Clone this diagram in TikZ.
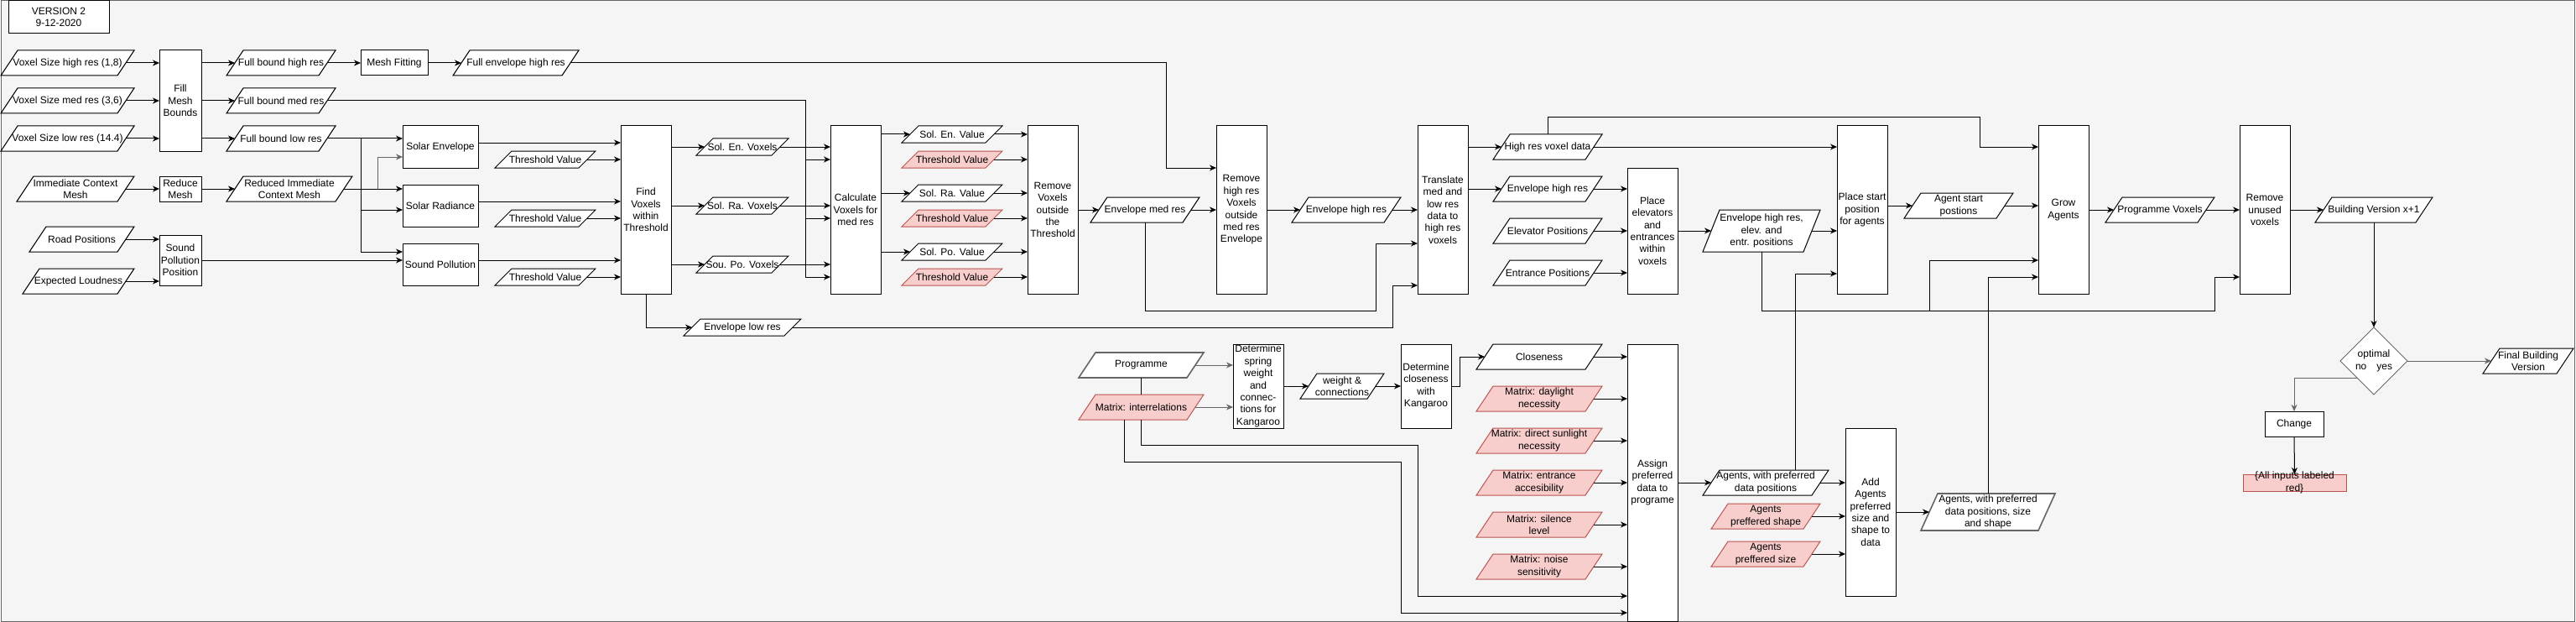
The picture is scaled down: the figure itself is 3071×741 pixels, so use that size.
\documentclass[tikz,border=0pt]{standalone}
\usepackage{fontspec}
\setmainfont{Liberation Sans}
\usetikzlibrary{arrows.meta,shapes.geometric}
\newdimen\skXa \newdimen\skYa \newdimen\skXb \newdimen\skYb
\makeatletter
\pgfdeclareshape{skewbox}{%
  \inheritsavedanchors[from=rectangle]%
  \inheritanchorborder[from=rectangle]%
  \inheritanchor[from=rectangle]{center}%
  \inheritanchor[from=rectangle]{north}%
  \inheritanchor[from=rectangle]{south}%
  \inheritanchor[from=rectangle]{east}%
  \inheritanchor[from=rectangle]{west}%
  \inheritanchor[from=rectangle]{north east}%
  \inheritanchor[from=rectangle]{north west}%
  \inheritanchor[from=rectangle]{south east}%
  \inheritanchor[from=rectangle]{south west}%
  \anchor{lft}{\southwest \pgf@xa=\pgf@x \pgf@ya=\pgf@y
     \northeast \pgf@y=.5\pgf@y \advance\pgf@y by .5\pgf@ya
     \pgf@x=\pgf@xa \advance\pgf@x by 10pt}%
  \anchor{rgt}{\southwest \pgf@ya=\pgf@y
     \northeast \pgf@y=.5\pgf@y \advance\pgf@y by .5\pgf@ya
     \advance\pgf@x by -10pt}%
  \backgroundpath{%
    \southwest \skXa=\pgf@x \skYa=\pgf@y
    \northeast \skXb=\pgf@x \skYb=\pgf@y
    \pgfpathmoveto{\pgfqpoint{\skXa}{\skYa}}%
    \pgfpathlineto{\pgfqpoint{\dimexpr\skXb-20pt\relax}{\skYa}}%
    \pgfpathlineto{\pgfqpoint{\skXb}{\skYb}}%
    \pgfpathlineto{\pgfqpoint{\dimexpr\skXa+20pt\relax}{\skYb}}%
    \pgfpathclose
  }%
}
\makeatother
\definecolor{bgc}{HTML}{F5F5F5}
\definecolor{bdc}{HTML}{666666}
\definecolor{redf}{HTML}{F8CECC}
\definecolor{reds}{HTML}{B85450}
\begin{document}
\begin{tikzpicture}[x=1pt,y=-1pt,
  every node/.style={font=\fontsize{12}{14.4}\selectfont, align=center, inner sep=0pt, outer sep=0pt},
  bb/.style args={#1/#2/#3/#4}{at={({(#1+#2)/2},{(#3+#4)/2})}, minimum width={(#2-#1)*1pt}, minimum height={(#4-#3)*1pt}},
  box/.style={draw=black, fill=white, line width=1pt},
  para/.style={shape=skewbox, draw=black, fill=white, line width=1pt},
  rpara/.style={shape=skewbox, draw=reds, fill=redf, line width=1pt},
  gpara/.style={shape=skewbox, draw=bdc, fill=white, line width=1.6pt},
  conn/.style={line width=1pt, -{Stealth[length=8pt,width=7pt,inset=2.5pt]}},
  ln/.style={line width=1pt},
]
\useasboundingbox (0,0) rectangle (3071,741);
\draw[draw=bdc, fill=bgc, line width=1pt] (1,0.5) rectangle (3069.5,740);

% ---------- nodes ----------
\node[box, bb=10/130/1/40] (ver) {VERSION 2\\9-12-2020};

\node[para, bb=1/160/60/90] (vhigh) {Voxel Size high res (1,8)};
\node[para, bb=1/160/105/135] (vmed) {Voxel Size med res (3,6)};
\node[para, bb=1/160/150/180] (vlow) {Voxel Size low res (14.4)};
\node[para, bb=20/160/210/240] (icm) {Immediate Context\\Mesh};
\node[para, bb=35/160/270/300] (road) {Road Positions};
\node[para, bb=27/160/320/350] (loud) {Expected Loudness};

\node[box, bb=190/240/60/180] (fill) {Fill\\Mesh\\Bounds};
\node[box, bb=190/240/210/240] (reduce) {Reduce\\Mesh};
\node[box, bb=190/240/280/340] (spp) {Sound\\Pollution\\Position};

\node[para, bb=270/400/60/90] (fbh) {Full bound high res};
\node[para, bb=270/400/105/135] (fbm) {Full bound med res};
\node[para, bb=270/400/150/180] (fbl) {Full bound low res};
\node[para, bb=270/420/210/240] (ricm) {Reduced Immediate\\Context Mesh};
\node[box, bb=430/510/60/90] (mfit) {Mesh Fitting};
\node[para, bb=540/690/60/90] (feh) {Full envelope high res};

\node[box, bb=480/570/150/200] (solenv) {Solar Envelope};
\node[box, bb=480/570/220/270] (solrad) {Solar Radiance};
\node[box, bb=480/570/290/340] (soundp) {Sound Pollution};
\node[para, bb=590/710/180/200] (thr1) {Threshold Value};
\node[para, bb=590/710/250/270] (thr2) {Threshold Value};
\node[para, bb=590/710/320/340] (thr3) {Threshold Value};

\node[box, bb=740/800/150/350] (find) {Find\\Voxels\\within\\Threshold};
\node[para, bb=830/940/165/185] (sev) {Sol. En. Voxels};
\node[para, bb=830/940/235/255] (srv) {Sol. Ra. Voxels};
\node[para, bb=830/940/305/325] (spv) {Sou. Po. Voxels};
\node[para, bb=815/955/380/400] (envlow) {Envelope low res};

\node[box, bb=990/1050/150/350] (calc) {Calculate\\Voxels for\\med res};
\node[para, bb=1075/1195/150/170] (sev2) {Sol. En. Value};
\node[rpara, bb=1075/1195/180/200] (rthr1) {Threshold Value};
\node[para, bb=1075/1195/220/240] (srv2) {Sol. Ra. Value};
\node[rpara, bb=1075/1195/250/270] (rthr2) {Threshold Value};
\node[para, bb=1075/1195/290/310] (spv2) {Sol. Po. Value};
\node[rpara, bb=1075/1195/320/340] (rthr3) {Threshold Value};

\node[box, bb=1225/1285/150/350] (remv) {Remove\\Voxels\\outside\\the\\Threshold};
\node[para, bb=1300/1430/235/265] (envmed) {Envelope med res};
\node[box, bb=1450/1510/150/350] (remh) {Remove\\high res\\Voxels\\outside\\med res\\Envelope};
\node[para, bb=1540/1670/235/265] (envh1) {Envelope high res};
\node[box, bb=1690/1750/150/350] (trans) {Translate\\med and\\low res\\data to\\high res\\voxels};

\node[para, bb=1780/1910/160/190] (hrvd) {High res voxel data};
\node[para, bb=1780/1910/210/240] (envh2) {Envelope high res};
\node[para, bb=1780/1910/260/290] (elev) {Elevator Positions};
\node[para, bb=1780/1910/310/340] (entr) {Entrance Positions};
\node[box, bb=1940/2000/200/350] (plel) {Place\\elevators\\and\\entrances\\within\\voxels};
\node[para, bb=2030/2170/250/300] (envel) {Envelope high res,\\elev. and\\entr. positions};
\node[box, bb=2190/2250/150/350] (plst) {Place start\\position\\for agents};
\node[para, bb=2270/2400/230/260] (agst) {Agent start\\postions};
\node[box, bb=2430/2490/150/350] (grow) {Grow\\Agents};
\node[para, bb=2510/2640/235/265] (pvox) {Programme Voxels};
\node[box, bb=2670/2730/150/350] (remu) {Remove\\unused\\voxels};
\node[para, bb=2760/2900/235/265] (bldv) {Building Version x+1};
\node[diamond, draw=bdc, fill=white, line width=1pt, minimum width=80pt, minimum height=80pt, aspect=1, at={(2830,430)}] (opt) {optimal\\no\hspace{12pt}yes};
\node[para, bb=2960/3068/415/445] (final) {Final Building\\Version};
\node[box, bb=2700/2770/490/520] (chg) {Change};
\node[draw=reds, fill=redf, line width=1pt, bb=2674/2797/565/585] (redb) {};
\node (redt) at (redb.center) {\{All inputs labeled\\red\}};

\node[gpara, bb=1286/1435/420/450] (prog) {Programme};
\node[rpara, bb=1286/1435/470/500] (mint) {Matrix: interrelations};
\node[box, bb=1470/1530/410/510] (dspr) {Determine\\spring\\weight\\and\\connec-\\tions for\\Kangaroo};
\node[para, bb=1550/1650/445/475] (wc) {weight \&\\connections};
\node[box, bb=1670/1730/410/510] (dclo) {Determine\\closeness\\with\\Kangaroo};
\node[para, bb=1760/1910/410/440] (clos) {Closeness};
\node[rpara, bb=1760/1910/460/490] (m1) {Matrix: daylight\\necessity};
\node[rpara, bb=1760/1910/510/540] (m2) {Matrix: direct sunlight\\necessity};
\node[rpara, bb=1760/1910/560/590] (m3) {Matrix: entrance\\accesibility};
\node[rpara, bb=1760/1910/610/640] (m4) {Matrix: silence\\level};
\node[rpara, bb=1760/1910/660/690] (m5) {Matrix: noise\\sensitivity};
\node[box, bb=1940/2000/410/740] (asg) {Assign\\preferred\\data to\\programe};
\node[para, bb=2030/2180/560/590] (agp) {Agents, with preferred\\data positions};
\node[rpara, bb=2040/2170/600/630] (agsh) {Agents\\preffered shape};
\node[rpara, bb=2040/2170/645/675] (agsz) {Agents\\preffered size};
\node[box, bb=2200/2260/510/710] (add) {Add\\Agents\\preferred\\size and\\shape to\\data};
\node[gpara, bb=2290/2450/588/632] (agf) {Agents, with preferred\\data positions, size\\and shape};

% ---------- junction points ----------
\coordinate (c1) at (1390,200);
\coordinate (c2) at (960,190);
\coordinate (c3) at (960,260);
\coordinate (c4) at (960,330);
\coordinate (c5) at (430,250);
\coordinate (c6) at (430,300);
\coordinate (c7) at (450,187);
\coordinate (c8) at (1660,340);
\coordinate (c9) at (1640,370);
\coordinate (c10) at (1640,290);
\coordinate (c11) at (2360,140);
\coordinate (c12) at (2640,370);
\coordinate (c13) at (2300,370);
\coordinate (c14) at (2300,310);
\coordinate (c15) at (1740,425);
\coordinate (c16) at (1690,530);
\coordinate (c17) at (1690,710);
\coordinate (c18) at (1340,550);
\coordinate (c19) at (1670,550);
\coordinate (c20) at (1670,730);
\coordinate (c21) at (2140,326);

% ---------- connectors ----------
\draw[conn] (vhigh.rgt) -- (fill.west |- vhigh.rgt);
\draw[conn] (vmed.rgt) -- (fill.west |- vmed.rgt);
\draw[conn] (vlow.rgt) -- (fill.west |- vlow.rgt);
\draw[conn] (fill.east |- fbh.lft) -- (fbh.lft);
\draw[conn] (fill.east |- fbm.lft) -- (fbm.lft);
\draw[conn] (fill.east |- fbl.lft) -- (fbl.lft);
\draw[conn] (fbh.rgt) -- (mfit.west);
\draw[conn] (mfit.east) -- (feh.lft);
\draw[conn] (feh.rgt) -| (c1) -- (remh.west |- c1);

\draw[conn] (fbm.rgt) -| (c4) -- (calc.west |- c4);
\draw[conn] (c2) -- (calc.west |- c2);
\draw[conn] (c3) -- (calc.west |- c3);

\draw[conn] (fbl.rgt) -- (solenv.west |- fbl.rgt);
\draw[ln] (fbl.rgt -| c5) -- (c6);
\draw[conn] (c5) -- (solrad.west |- c5);
\draw[conn] (c6) -- (soundp.west |- c6);

\draw[conn] (icm.rgt) -- (reduce.west |- icm.rgt);
\draw[conn] (reduce.east) -- (ricm.lft);
\draw[conn] (ricm.rgt) -- (solrad.west |- ricm.rgt);
\draw[conn, draw=bdc] (ricm.rgt -| c7) -- (c7) -- (solenv.west |- c7);

\draw[conn] (road.rgt) -- (spp.west |- road.rgt);
\draw[conn] (loud.rgt) -- (spp.west |- loud.rgt);
\draw[conn] (spp.east) -- (soundp.west |- spp.east);

\draw[conn] (solenv.east |- 0,170) -- (find.west |- 0,170);
\draw[conn] (thr1.rgt) -- (find.west |- thr1.rgt);
\draw[conn] (solrad.east |- 0,240) -- (find.west |- 0,240);
\draw[conn] (thr2.rgt) -- (find.west |- thr2.rgt);
\draw[conn] (soundp.east |- 0,310) -- (find.west |- 0,310);
\draw[conn] (thr3.rgt) -- (find.west |- thr3.rgt);

\draw[conn] (find.east |- sev.lft) -- (sev.lft);
\draw[conn] (find.east |- srv.lft) -- (srv.lft);
\draw[conn] (find.east |- spv.lft) -- (spv.lft);
\draw[conn] (sev.rgt) -- (calc.west |- sev.rgt);
\draw[conn] (srv.rgt) -- (calc.west |- srv.rgt);
\draw[conn] (spv.rgt) -- (calc.west |- spv.rgt);
\draw[conn] (find.south) |- (envlow.lft);
\draw[conn] (envlow.rgt) -| (c8) -- (trans.west |- c8);

\draw[conn] (calc.east |- sev2.lft) -- (sev2.lft);
\draw[conn] (calc.east |- srv2.lft) -- (srv2.lft);
\draw[conn] (calc.east |- spv2.lft) -- (spv2.lft);
\draw[conn] (sev2.rgt) -- (remv.west |- sev2.rgt);
\draw[conn] (rthr1.rgt) -- (remv.west |- rthr1.rgt);
\draw[conn] (srv2.rgt) -- (remv.west |- srv2.rgt);
\draw[conn] (rthr2.rgt) -- (remv.west |- rthr2.rgt);
\draw[conn] (spv2.rgt) -- (remv.west |- spv2.rgt);
\draw[conn] (rthr3.rgt) -- (remv.west |- rthr3.rgt);

\draw[conn] (remv.east |- envmed.lft) -- (envmed.lft);
\draw[conn] (envmed.rgt) -- (remh.west |- envmed.rgt);
\draw[conn] (envmed.south) |- (c9) -- (c10) -- (trans.west |- c10);
\draw[conn] (remh.east |- envh1.lft) -- (envh1.lft);
\draw[conn] (envh1.rgt) -- (trans.west |- envh1.rgt);

\draw[conn] (trans.east |- hrvd.lft) -- (hrvd.lft);
\draw[conn] (trans.east |- envh2.lft) -- (envh2.lft);
\draw[conn] (hrvd.rgt) -- (plst.west |- hrvd.rgt);
\draw[conn] (hrvd.north) |- (c11) |- (grow.west |- hrvd.rgt);
\draw[conn] (envh2.rgt) -- (plel.west |- envh2.rgt);
\draw[conn] (elev.rgt) -- (plel.west |- elev.rgt);
\draw[conn] (entr.rgt) -- (plel.west |- entr.rgt);
\draw[conn] (plel.east |- envel.lft) -- (envel.lft);
\draw[conn] (envel.rgt) -- (plst.west |- envel.rgt);
\draw[conn] (envel.south) |- (c12) |- (remu.west |- 0,330);
\draw[conn] (c13) -- (c14) -- (grow.west |- c14);
\draw[conn] (plst.east |- agst.lft) -- (agst.lft);
\draw[conn] (agst.rgt) -- (grow.west |- agst.rgt);
\draw[conn] (grow.east |- pvox.lft) -- (pvox.lft);
\draw[conn] (pvox.rgt) -- (remu.west |- pvox.rgt);
\draw[conn] (remu.east |- bldv.lft) -- (bldv.lft);
\draw[conn] (bldv.south) -- (opt.north);
\draw[conn, draw=bdc] (opt.east) -- (final.lft);
\draw[conn, draw=bdc] (opt.south west) -| (chg.north);
\draw[conn] (chg.south) -- (redb.north);

\draw[conn, draw=bdc] (prog.rgt) -- (dspr.west |- prog.rgt);
\draw[conn, draw=bdc] (mint.rgt) -- (dspr.west |- mint.rgt);
\draw[ln] (prog.south) -- (mint.north);
\draw[conn] (dspr.east |- wc.lft) -- (wc.lft);
\draw[conn] (wc.rgt) -- (dclo.west |- wc.rgt);
\draw[conn] (dclo.east |- wc.rgt) -| (c15) -- (clos.lft);
\draw[conn] (clos.rgt) -- (asg.west |- clos.rgt);
\draw[conn] (m1.rgt) -- (asg.west |- m1.rgt);
\draw[conn] (m2.rgt) -- (asg.west |- m2.rgt);
\draw[conn] (m3.rgt) -- (asg.west |- m3.rgt);
\draw[conn] (m4.rgt) -- (asg.west |- m4.rgt);
\draw[conn] (m5.rgt) -- (asg.west |- m5.rgt);
\draw[conn] (mint.south) |- (c16) -- (c17) -- (asg.west |- c17);
\draw[conn] (mint.south -| c18) -- (c18) -- (c19) -- (c20) -- (asg.west |- c20);
\draw[conn] (asg.east |- agp.lft) -- (agp.lft);
\draw[conn] (agp.rgt) -- (add.west |- agp.rgt);
\draw[conn] (agsh.rgt) -- (add.west |- agsh.rgt);
\draw[conn] (agsz.rgt) -- (add.west |- agsz.rgt);
\draw[conn] (agp.north -| c21) -- (c21) -- (plst.west |- c21);
\draw[conn] (add.east |- agf.lft) -- (agf.lft);
\draw[conn] (agf.north) |- (grow.west |- 0,330);
\end{tikzpicture}
\end{document}
